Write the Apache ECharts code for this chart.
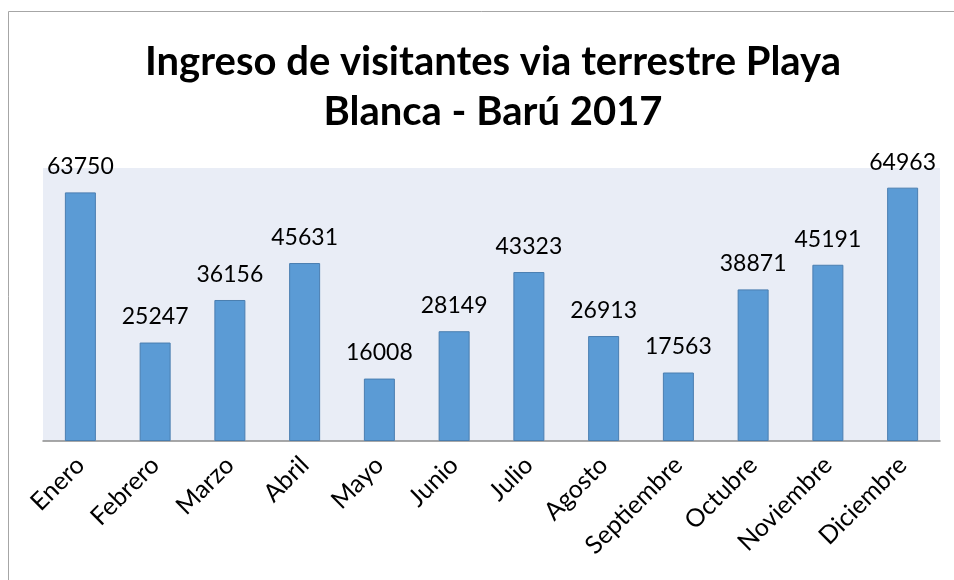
<!DOCTYPE html>
<html><head><meta charset="utf-8">
<script src="https://cdn.jsdelivr.net/npm/echarts@6/dist/echarts.min.js"></script>
<style>html,body{margin:0;padding:0;background:#fff}#c{width:954px;height:580px}</style>
</head><body><div id="c"></div>
<script>
const titleLines = ['Ingreso de visitantes via terrestre Playa', 'Blanca - Barú 2017'];
const categories = ['Enero','Febrero','Marzo','Abril','Mayo','Junio','Julio','Agosto','Septiembre','Octubre','Noviembre','Diciembre'];
const visitantes = [63750,25247,36156,45631,16008,28149,43323,26913,17563,38871,45191,64963];

const chart = echarts.init(document.getElementById('c'), null, {renderer:'canvas'});
chart.setOption({
  animation:false,
  backgroundColor:'#fff',
  title:{
    text: titleLines.join('\n'),
    left: 488, top: 32, textAlign:'center',
    textStyle:{fontFamily:'Lato', fontWeight:'bold', fontSize:40, lineHeight:50, color:'#000'}
  },
  graphic:[{type:'rect', shape:{x:8.5,y:11.5,width:960,height:600}, style:{fill:'none', stroke:'#A6A6A6', lineWidth:1}, silent:true, z:-1}],
  grid:{left:43, right:14, top:168, bottom:139, show:true, backgroundColor:'#E9EDF6', borderWidth:0},
  xAxis:{
    type:'category', data:categories,
    axisLine:{lineStyle:{color:'#8C8C8C', width:1.5}},
    axisTick:{show:false},
    axisLabel:{rotate:45, fontFamily:'Lato', fontSize:25, color:'#000', margin:20, interval:0}
  },
  yAxis:{type:'value', min:0, max:70000, show:false, splitLine:{show:false}},
  series:[{
    type:'bar', data:visitantes, barWidth:31,
    itemStyle:{color:'#5B9BD5', borderColor:'#4A7EB0', borderWidth:1},
    label:{show:true, position:'top', distance:14, fontFamily:'Lato', fontSize:23, color:'#000'}
  }]
});
</script></body></html>
